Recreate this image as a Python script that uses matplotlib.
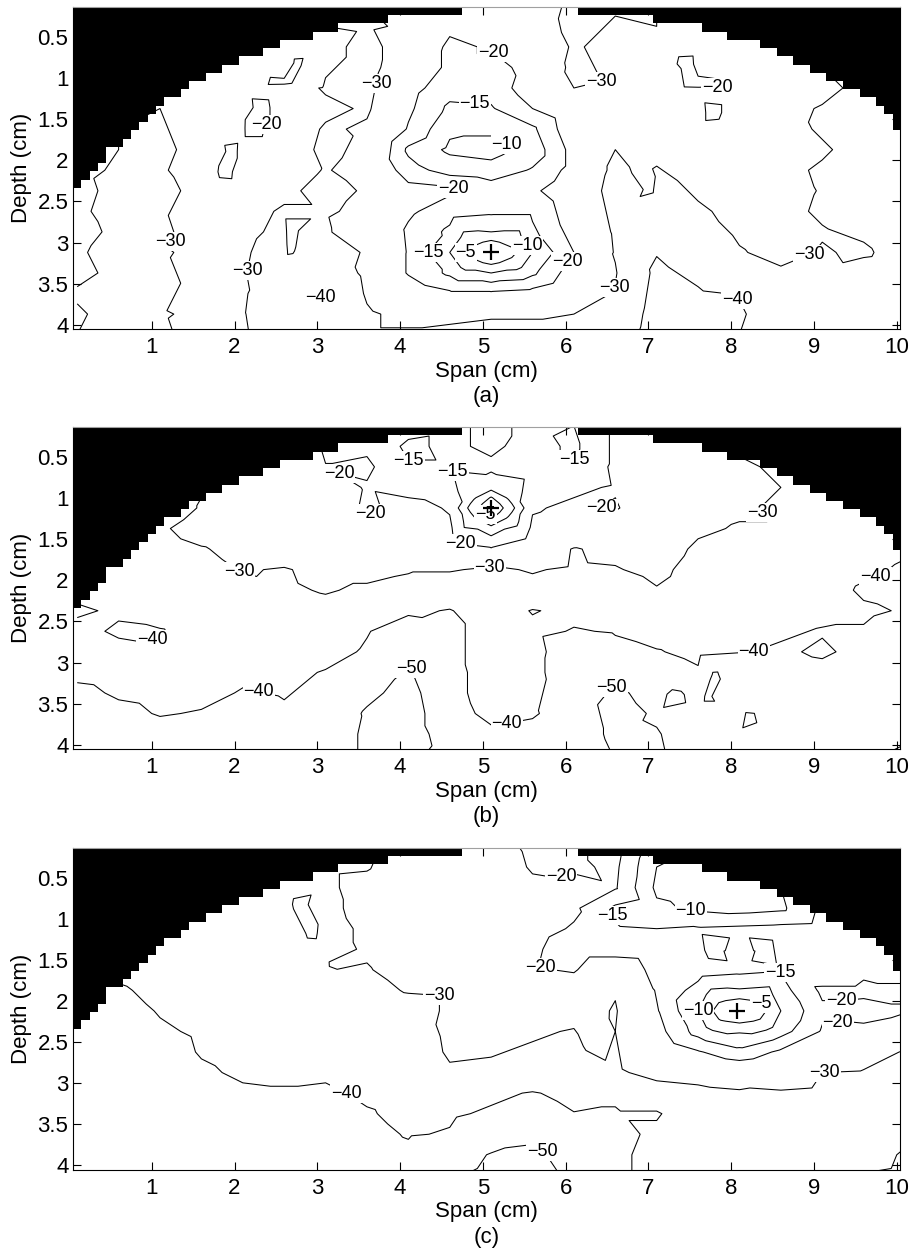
import numpy as np
import matplotlib
matplotlib.use("Agg")
import matplotlib.pyplot as plt
import matplotlib.tri as mtri

plt.rcParams["font.family"] = ["Liberation Sans", "DejaVu Sans"]

# sampling grid (cm)
span_nodes = [0.1, 0.6, 1.1, 1.6, 2.1, 2.6, 3.1, 3.6, 4.1, 4.6, 5.1,
              5.6, 6.1, 6.6, 7.1, 7.6, 8.1, 8.6, 9.1, 9.6, 10.1]
depth_nodes = [0.12, 0.37, 0.62, 0.87, 1.12, 1.37, 1.62, 1.87, 2.12,
               2.37, 2.62, 2.87, 3.12, 3.37, 3.62, 3.87, 4.12]

# dB values, one list per span column (top -> bottom)
db_a = [
    [-30, -30, -30, -30, -30, -30, -30, -30, -28, -27, -28, -27, -29, -28, -31, -29, -30],
    [-30, -30, -30, -30, -30, -30, -30, -30, -31, -33, -34, -32, -33, -32, -30.5, -33, -34],
    [-30, -30, -30, -30, -30, -30, -31, -32, -31, -32, -31, -32, -31, -32, -33, -31, -32],
    [-28, -28, -28, -28, -27, -25, -26, -27, -26, -28, -27, -26, -28, -27, -25, -28, -26],
    [-28, -28, -28, -25, -24, -25, -24, -25, -25, -26, -27, -28, -29, -29.5, -29, -29.5, -29],
    [-30, -30, -29, -27, -25, -24, -24, -25, -26, -28, -31, -32, -34, -35, -37, -36, -38],
    [-30, -30, -27, -29, -31, -28, -31, -32, -30.5, -33, -31, -34, -35, -37, -41, -38, -39],
    [-30, -31, -33, -33, -32, -31, -29, -28, -27, -29, -28, -29, -29, -28, -29, -31, -31],
    [-28, -29, -25, -24, -22, -21, -19.5, -14, -17, -22, -21, -19, -19.5, -19.5, -24, -28, -31],
    [-24, -21, -19, -19, -17, -14, -11, -9, -13, -21, -17, -14, -10, -14, -21, -28, -32],
    [-23, -22, -20.5, -18, -17, -14.5, -11, -8, -12, -18, -16, -10, 0, -10, -21, -29, -33],
    [-25, -24, -23, -22, -23, -20, -14, -12, -15.5, -19, -16, -14, -10, -14, -22, -29, -33],
    [-32, -33, -31, -32, -30, -25, -24, -22, -22, -24, -23, -22, -20, -23, -26, -30, -33],
    [-31, -29, -27, -28, -29, -27, -28, -30, -32, -33, -32, -31, -30.5, -29.5, -30.5, -32, -34],
    [-30, -30, -25, -24, -27, -29, -27, -28, -30.5, -33, -35, -36, -39.5, -42, -43, -44, -45],
    [-28, -27, -24, -23, -23, -24, -24, -26, -27, -29, -31, -33, -35, -38, -41, -43, -44],
    [-28, -27, -27, -25, -24, -24, -26, -25, -27, -26, -28, -29, -30.5, -33, -39.5, -41, -40],
    [-30, -30, -30, -27, -26, -28, -27, -26, -28, -27, -28, -27, -28, -31, -33, -35, -36],
    [-30, -30, -30, -30, -28, -30.5, -31, -29, -31, -30.5, -31, -29.5, -30.5, -31, -31, -32, -33],
    [-32, -32, -32, -32, -32, -31, -32, -33, -32, -34, -33, -31, -29, -33, -34, -35, -35],
    [-33, -33, -33, -33, -33, -33, -33, -33, -34, -33, -35, -34, -33, -34, -35, -36, -36],
]
db_b = [
    [-34, -34, -34, -35, -35, -36, -37, -37, -38, -41, -38, -37, -38, -42, -45, -46, -46],
    [-34, -34, -34, -35, -35, -36, -36, -37, -38, -39, -41, -38, -37, -39, -42, -45, -46],
    [-33, -33, -33, -34, -34, -31, -33, -35, -36, -37, -40.5, -39, -37, -38, -39.5, -43, -45],
    [-32, -32, -31, -30.5, -29.5, -27, -30.5, -33, -35, -36, -37, -37, -36, -38, -40.5, -42, -44],
    [-30, -29, -28, -27, -27, -26, -28, -29.5, -33, -35, -36, -37, -38.5, -40.5, -43, -45, -46],
    [-28, -27, -25, -25, -26, -25, -26, -30.5, -31, -33, -35, -37, -38, -39.5, -41, -43, -44],
    [-22, -19, -20.2, -23, -24, -24, -25, -28, -29.5, -32, -35, -37, -40.5, -42, -44, -43, -45],
    [-20, -19, -21, -19.5, -19, -22, -23, -28, -31, -34, -39.5, -41, -43, -48, -51, -52, -52],
    [-17, -14, -15.5, -18, -22, -22, -23, -29.5, -32, -38.5, -45, -48, -51, -53, -54, -54, -52],
    [-16, -16, -15.5, -17, -19.5, -21, -22, -29.5, -34, -40.5, -43, -43, -43, -43, -44, -46, -47],
    [-14, -14, -16, -12, 0, -12, -20.5, -31, -34, -35, -35, -35, -36, -36, -37.5, -42, -44],
    [-16, -17, -17, -18, -19.5, -21, -24, -29.5, -32, -40.5, -38, -37, -37, -38, -39, -43, -45],
    [-15, -14, -15.5, -19, -21, -22, -30.5, -31, -34, -38, -40.5, -46, -47, -46, -45, -45, -44],
    [-21, -21, -21, -20.5, -19.5, -23, -28, -30.5, -34, -37, -39.5, -42, -49, -51, -53, -52, -50.5],
    [-26, -25, -25, -24, -24, -25, -27, -28, -30.5, -34, -37, -40.5, -44, -48, -49, -50.5, -51],
    [-30, -29, -27, -26, -28, -29, -31, -33, -34, -35, -36, -38, -41, -46, -47, -46, -49],
    [-32, -31, -29, -28, -29, -30.5, -32, -34, -35, -36, -37, -39.5, -42, -45, -47, -49, -46],
    [-33, -33, -31, -30, -31, -30.5, -33, -35, -36, -37, -39, -41, -43, -44, -45, -46, -45],
    [-34, -34, -34, -32, -33, -33, -34, -36, -37, -38, -40.5, -39, -42, -41, -43, -44, -44],
    [-35, -35, -35, -34, -34, -35, -37, -38.5, -41, -39, -40.5, -42, -40.5, -43, -44, -43, -41],
    [-36, -36, -36, -36, -37, -38, -39, -41, -42, -40.5, -43, -41, -42, -43, -42, -41, -39],
]
db_c = [
    [-42, -42, -42, -42, -42, -42, -42, -42, -42, -44, -45, -46, -46, -47, -47, -48, -50.5],
    [-38, -38, -38, -38, -38, -38, -38, -41, -43, -44, -45, -46, -47, -47, -48, -48, -49],
    [-36, -36, -36, -36, -36, -35, -36, -38, -39.5, -41, -43, -45, -46, -47, -47, -48, -50.5],
    [-35, -35, -35, -35, -34, -35, -36, -37, -38, -39, -39.5, -41, -43, -44, -45, -46, -47],
    [-34, -34, -34, -33, -34, -35, -36, -36, -37, -38, -38, -39, -41, -43, -45, -46, -47],
    [-33, -33, -33, -32, -33, -34, -34, -35, -36, -37, -38, -39, -40.5, -42, -44, -45, -46],
    [-31, -31, -31, -31.5, -32, -33, -34, -35, -36, -37, -37, -39, -41, -42, -43, -44, -45],
    [-30, -30.5, -28, -28, -29, -29, -30.5, -32, -34, -35, -36, -37, -39, -40.5, -42, -43, -44],
    [-27, -26, -25, -25, -26, -26, -27, -29.5, -33, -34, -35, -37, -38, -38.5, -39.5, -41.5, -43],
    [-25, -25, -24, -24, -25, -26, -27, -29, -29, -28.5, -29, -31, -36, -39, -40.5, -46, -49],
    [-22, -23, -24, -24, -25, -25, -25, -26, -27, -28, -29.5, -31.5, -38.5, -41, -45, -50.5, -52],
    [-19, -19.5, -21, -23, -22, -21, -20.5, -24, -27, -29, -31, -33, -40.5, -43, -49, -51, -52],
    [-19, -19, -22, -21, -19.5, -17, -19.5, -23, -27, -30.5, -32, -34, -38, -40.2, -48, -48, -49],
    [-22, -21, -20.5, -14, -15.5, -17, -25, -29.5, -30.5, -30, -30.5, -31, -38, -41, -43, -42, -42],
    [-12, -10, -9, -11, -15, -16, -18, -19.5, -20.5, -22, -25, -28, -33, -41, -38, -37, -37],
    [-10, -9, -8, -9, -15.5, -16, -17.5, -13, -10, -13, -20.5, -27, -32, -33, -35, -36, -36],
    [-11, -10, -9, -8, -16, -17, -16.5, -9.5, 0, -9.5, -16.5, -25, -31, -33, -34, -35, -36],
    [-12, -11, -10, -9, -16.5, -16, -15.5, -13, -10, -13, -21, -27, -30.5, -32, -34, -35, -36],
    [-14, -14, -15, -16, -17, -18, -16, -21, -19, -20.5, -24, -30, -31, -33, -34, -35, -36],
    [-16, -16, -16, -16, -16, -18, -19, -21, -18.5, -21, -27, -30.5, -32, -33, -34, -36, -40.5],
    [-18, -18, -18, -18, -18, -18, -18, -21, -19.5, -24, -30.5, -31, -32, -33, -38, -41, -42],
]

# extra samples: around each focus, then side lobes and small islands
extra_a_span = [4.85, 5.35, 5.1, 5.1, 4.85, 5.35, 4.85, 5.35,
                1.9, 2.0, 2.15, 2.3, 2.6, 2.75, 7.5, 7.6, 7.75,
                6.9, 7.05, 2.65, 3.2, 2.65]
extra_a_depth = [3.12, 3.12, 2.995, 3.245, 2.995, 2.995, 3.245, 3.245,
                 2.15, 1.9, 1.6, 1.35, 1.05, 0.8, 0.8, 1.1, 1.45,
                 2.05, 2.35, 2.85, 2.8, 3.1]
extra_a_db = [-3.5, -3.5, -4, -4, -6.5, -6.5, -6.5, -6.5,
              -17, -17.5, -16.5, -17, -17.5, -18, -17.5, -16.5, -17.5,
              -28.5, -29, -28.5, -28.5, -29]
extra_b_span = [4.85, 5.35, 5.1, 5.1, 4.85, 5.35, 4.85, 5.35,
                7.8, 7.35, 7.7, 8.2]
extra_b_depth = [1.12, 1.12, 0.995, 1.245, 0.995, 0.995, 1.245, 1.245,
                 3.15, 3.4, 3.42, 3.68]
extra_b_db = [-8.5, -8.5, -4.5, -4.5, -12, -12, -12, -12,
              -51.5, -52, -51, -51.5]
extra_c_span = [7.85, 8.35, 8.1, 8.1, 7.85, 8.35, 7.85, 8.35,
                7.8, 8.1, 8.4, 6.3, 2.75, 2.95, 3.15]
extra_c_depth = [2.12, 2.12, 1.995, 2.245, 1.995, 1.995, 2.245, 2.245,
                 1.4, 1.38, 1.4, 2.5, 0.8, 1.2, 1.55]
extra_c_db = [-3, -3, -4, -4, -5.5, -5.5, -5.5, -5.5,
              -13.5, -17.5, -13.5, -28.5, -29, -29, -29.5]

# target positions (+)
target_span = [5.1, 5.1, 8.07]
target_depth = [3.12, 1.12, 2.12]

levels = [-50, -40, -30, -20, -15, -10, -5]

# blacked-out region outside the scan sector (0.1 cm cells)
mask_left_edges = [0.0, 0.15, 0.25, 0.35, 0.45, 0.65, 0.75, 0.85, 0.95, 1.05, 1.15,
                   1.35, 1.45, 1.65, 1.85, 2.05, 2.35, 2.55, 2.95, 3.25, 3.85, 4.75]
mask_left_rows = [22, 21, 20, 19, 17, 16, 15, 14, 13, 12, 11, 10, 9, 8, 7, 6, 5, 4, 3, 2, 1]
mask_right_edges = [6.15, 7.05, 7.65, 7.95, 8.35, 8.55, 8.75, 8.95, 9.15, 9.35, 9.55,
                    9.75, 9.85, 9.95, 10.2]
mask_right_rows = [1, 2, 3, 4, 5, 6, 7, 8, 9, 10, 11, 12, 13, 15]

# contour label spots (level, span, depth)
labels_a = [(-30, 4.04, 1.13), (-20, 2.43, 1.59), (-30, 1.24, 2.99), (-30, 2.13, 3.33),
            (-40, 3.06, 3.64), (-15, 4.33, 3.13), (-5, 4.73, 3.09), (-20, 4.65, 2.28),
            (-15, 4.9, 1.33), (-10, 5.37, 1.73), (-20, 5.13, 0.68), (-30, 6.62, 1.11),
            (-20, 7.83, 1.21), (-10, 5.54, 3.03), (-20, 6.02, 3.23), (-30, 6.75, 3.6),
            (-40, 8.08, 3.68), (-30, 9.04, 3.39)]
labels_b = [(-20, 3.24, 0.74), (-15, 4.0, 0.66), (-15, 4.59, 0.68), (-15, 6.13, 0.54),
            (-20, 3.68, 1.27), (-5, 5.01, 1.23), (-20, 4.73, 1.55), (-20, 6.41, 1.13),
            (-30, 2.03, 1.92), (-30, 5.09, 1.77), (-30, 8.32, 1.21), (-40, 1.02, 2.77),
            (-40, 2.35, 3.13), (-40, 9.73, 1.92), (-40, 8.26, 2.83), (-50, 4.12, 3.09),
            (-50, 6.41, 3.19), (-40, 5.29, 3.74)]
labels_c = [(-20, 5.95, 0.51), (-15, 6.6, 0.95), (-10, 7.5, 0.97), (-20, 5.68, 1.68),
            (-30, 4.69, 1.72), (-15, 8.71, 1.6), (-20, 9.33, 1.96), (-10, 7.56, 2.12),
            (-5, 8.35, 2.04), (-20, 9.31, 2.39), (-30, 9.13, 2.81), (-40, 3.46, 2.95),
            (-50, 5.86, 3.64)]

FS = 16
LFS = 13


def fmt_level(v):
    return "\u2212" + format(abs(v), "g")


def draw_mask(ax, edges, rows):
    bottoms = 0.135 + 0.1 * np.array(rows)
    ax.fill_between(edges, 0.0, np.r_[bottoms, bottoms[-1]], step="post",
                    color="k", lw=0, zorder=2.2)


def panel(ax, cols, fx, fy, fz, labels, k, tag):
    ax.set_xlim(0.053, 10.04)
    ax.set_ylim(4.055, 0.135)

    X, Y = np.meshgrid(span_nodes, depth_nodes)
    Z = np.array(cols, dtype=float).T
    x = np.concatenate([X.ravel(), fx])
    y = np.concatenate([Y.ravel(), fy])
    z = np.concatenate([Z.ravel(), fz])
    tri = mtri.Triangulation(x, y)

    for lev in levels:
        if not (z.min() < lev < z.max()):
            continue
        cs = ax.tricontour(tri, z, levels=[lev], colors="k", linewidths=0.75,
                           linestyles="solid")
        pts = [(sx, sy) for (l, sx, sy) in labels if l == lev]
        if pts:
            txts = ax.clabel(cs, manual=pts, inline=False, fmt=fmt_level, fontsize=LFS)
            for t in txts:
                t.set_rotation(0)
                t.set_bbox(dict(boxstyle="square,pad=0.05", fc="white", ec="none"))

    draw_mask(ax, mask_left_edges, mask_left_rows)
    draw_mask(ax, mask_right_edges, mask_right_rows)

    ax.plot(target_span[k], target_depth[k], ls="none", marker="+", color="k",
            ms=12, mew=1.6, zorder=5)

    ax.set_xticks(range(1, 11))
    ax.set_yticks([0.5, 1, 1.5, 2, 2.5, 3, 3.5, 4])
    ax.set_yticklabels(["0.5", "1", "1.5", "2", "2.5", "3", "3.5", "4"])
    ax.tick_params(direction="in", top=True, right=True, length=5.5, width=0.8,
                   labelsize=FS)
    ax.tick_params(axis="x", pad=5.5)
    ax.tick_params(axis="y", pad=3.5)
    for s in ax.spines.values():
        s.set_linewidth(0.8)
    ax.spines["top"].set_color("#a0a0a0")
    ax.set_xlabel("Span (cm)", fontsize=FS, labelpad=2)
    ax.set_ylabel("Depth (cm)", fontsize=FS, labelpad=4)
    ax.text(0.5, -0.209, tag, transform=ax.transAxes, ha="center", va="center",
            fontsize=FS)


fig = plt.figure(figsize=(9.11, 12.54), dpi=100)
bottoms = [0.7374, 0.4025, 0.0670]
data = [(db_a, extra_a_span, extra_a_depth, extra_a_db, labels_a, "(a)"),
        (db_b, extra_b_span, extra_b_depth, extra_b_db, labels_b, "(b)"),
        (db_c, extra_c_span, extra_c_depth, extra_c_db, labels_c, "(c)")]
for k, (cols, fx, fy, fz, labs, tag) in enumerate(data):
    ax = fig.add_axes([0.0805, bottoms[k], 0.9075, 0.257])
    panel(ax, cols, fx, fy, fz, labs, k, tag)

fig.savefig("out.png", dpi=100)
